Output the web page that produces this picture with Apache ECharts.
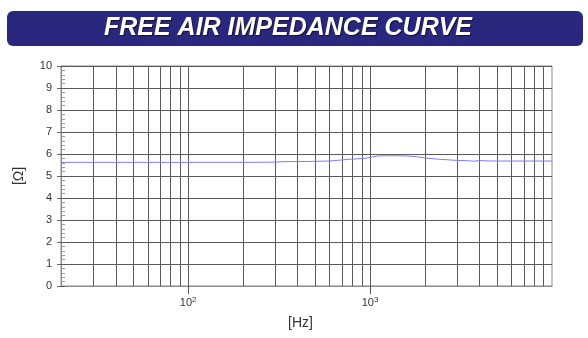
<!DOCTYPE html>
<html>
<head>
<meta charset="utf-8">
<script src="https://cdn.jsdelivr.net/npm/echarts@6/dist/echarts.min.js"></script>
<style>html,body{margin:0;padding:0;background:#fff;}#c{width:588px;height:338px;}</style>
</head>
<body>
<div id="c"></div>
<script>
// Data
const titleText = 'FREE AIR IMPEDANCE CURVE';
const xAxisName = '[Hz]';
const yAxisName = '[Ω]';
const freqHz = [20, 50, 100, 200, 300, 330, 450, 600, 660, 770, 940, 1020, 1100, 1250, 1400, 1600, 1800, 2000, 2400, 3000, 3500, 3700, 4000, 4700, 6000, 8000, 10000];
const impedanceOhm = [5.62, 5.62, 5.62, 5.62, 5.63, 5.65, 5.66, 5.68, 5.71, 5.76, 5.80, 5.86, 5.91, 5.92, 5.92, 5.91, 5.88, 5.82, 5.76, 5.71, 5.69, 5.67, 5.70, 5.68, 5.68, 5.68, 5.68];
const gridFreqs = [30, 40, 50, 60, 70, 80, 90, 100, 200, 300, 400, 500, 600, 700, 800, 900, 1000, 2000, 3000, 4000, 5000, 6000, 7000, 8000, 9000];
const decadeTicks = [100, 1000];
const yMin = 0, yMax = 10, yStep = 1;
const xMin = 20, xMax = 10000;

const chart = echarts.init(document.getElementById('c'), null, {renderer: 'canvas'});
const font = 'Arial, "Liberation Sans", sans-serif';
const option = {
  animation: false,
  graphic: [
    {type: 'rect', shape: {x: 7, y: 11, width: 576, height: 35, r: 6}, style: {fill: '#29287e'}, z: 10},
    {type: 'text', x: 288, y: 28, z: 11, style: {text: titleText, fill: '#ffffff', font: 'italic bold 25px ' + font, textAlign: 'center', textVerticalAlign: 'middle', textShadowColor: 'rgba(0,0,0,0.6)', textShadowOffsetX: 1, textShadowOffsetY: 1, textShadowBlur: 1}}
  ],
  grid: {left: 61, right: 36, top: 66, bottom: 52, show: true, borderColor: '#8a8a8a', borderWidth: 1, backgroundColor: 'transparent'},
  xAxis: {
    type: 'log', logBase: 10, min: xMin, max: xMax,
    name: xAxisName, nameLocation: 'middle', nameGap: 30,
    nameTextStyle: {fontFamily: font, fontSize: 14, color: '#333', padding: [0, 12, 0, 0]},
    axisLine: {show: true, lineStyle: {color: '#8a8a8a'}},
    axisTick: {show: true, length: 8, customValues: decadeTicks, lineStyle: {color: '#555'}},
    splitLine: {show: false},
    axisLabel: {
      customValues: decadeTicks, margin: 10, color: '#333', fontFamily: font, fontSize: 11,
      formatter: v => '10{sup|' + Math.round(Math.log10(v)) + '}',
      rich: {sup: {fontSize: 8, verticalAlign: 'top', padding: [0, 0, 6, 0], color: '#333', fontFamily: font}}
    }
  },
  yAxis: [
    {
      type: 'value', min: yMin, max: yMax, interval: yStep,
      name: yAxisName, nameLocation: 'middle', nameGap: 35,
      nameTextStyle: {fontFamily: font, fontSize: 14, color: '#333'},
      axisLine: {show: true, lineStyle: {color: '#8a8a8a'}},
      axisTick: {show: true, length: 4, lineStyle: {color: '#666'}},
      splitLine: {show: true, lineStyle: {color: '#5a5a5a', width: 1}},
      axisLabel: {margin: 9, color: '#333', fontFamily: font, fontSize: 11}
    },
    {
      type: 'value', min: yMin, max: yMax, interval: yStep, position: 'left',
      axisLine: {show: false},
      axisTick: {show: true, inside: true, length: 4, lineStyle: {color: '#5a5a5a'}},
      minorTick: {show: true, splitNumber: 5, length: 4, lineStyle: {color: '#9a9a9a'}},
      splitLine: {show: false},
      axisLabel: {show: false}
    }
  ],
  series: [
    {
      type: 'line', xAxisIndex: 0, yAxisIndex: 0,
      data: freqHz.map((f, i) => [f, impedanceOhm[i]]),
      showSymbol: false, smooth: false,
      lineStyle: {color: '#7c7cf2', width: 1},
      z: 5,
      markLine: {
        silent: true, symbol: ['none', 'none'], animation: false,
        label: {show: false},
        lineStyle: {color: '#5a5a5a', type: 'solid', width: 1},
        emphasis: {disabled: true},
        data: gridFreqs.map(f => ({xAxis: f}))
      }
    }
  ]
};
chart.setOption(option);
</script>
</body>
</html>
